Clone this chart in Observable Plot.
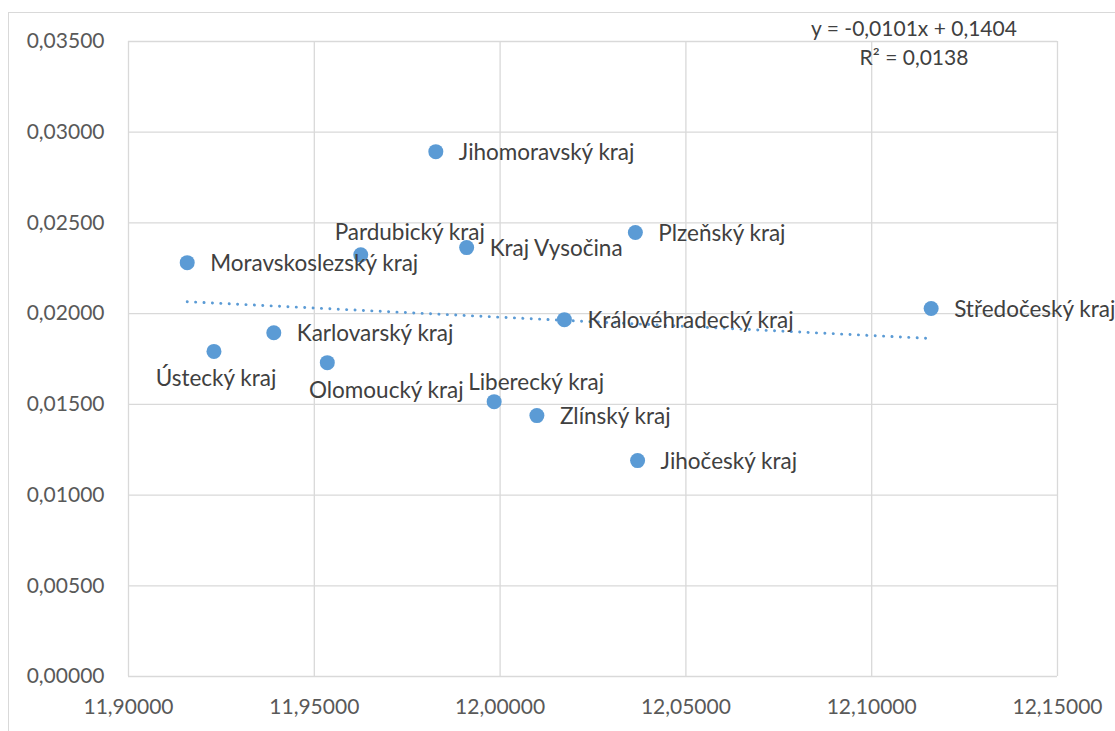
<!DOCTYPE html>
<html>
<head>
<meta charset="utf-8">
<script src="https://cdn.jsdelivr.net/npm/d3@7"></script>
<script src="https://cdn.jsdelivr.net/npm/@observablehq/plot@0.6"></script>
<style>
  html, body { margin: 0; padding: 0; background: #fff; overflow: hidden; }
  #wrap { position: relative; width: 1115px; height: 731px; }
  #frame { position: absolute; left: 8px; top: 12px; width: 1200px; height: 800px;
           border-left: 1px solid #D9D9D9; border-top: 1px solid #D9D9D9; }
  #chart { position: absolute; left: 0; top: 0; }
</style>
</head>
<body>
<div id="wrap"><div id="frame"></div><div id="chart"></div></div>
<script>
// ---- data ----
const regions = [
  "Jihomoravský kraj", "Pardubický kraj", "Kraj Vysočina", "Plzeňský kraj",
  "Moravskoslezský kraj", "Středočeský kraj", "Královéhradecký kraj",
  "Karlovarský kraj", "Ústecký kraj", "Olomoucký kraj", "Liberecký kraj",
  "Zlínský kraj", "Jihočeský kraj"
];
const xValues = [11.9827, 11.9625, 11.9910, 12.0364, 11.9158, 12.1160, 12.0173,
                 11.9391, 11.9230, 11.9535, 11.9984, 12.0099, 12.0370];
const yValues = [0.02893, 0.02324, 0.02364, 0.02447, 0.02281, 0.02028, 0.01967,
                 0.01895, 0.01792, 0.01730, 0.01515, 0.01438, 0.01190];
const xTicks = [11.90, 11.95, 12.00, 12.05, 12.10, 12.15];
const yTicks = [0, 0.005, 0.010, 0.015, 0.020, 0.025, 0.030, 0.035];
const equationLines = ["y = -0,0101x + 0,1404", "R² = 0,0138"];

// ---- build ----
const data = regions.map((name, i) => ({name, x: xValues[i], y: yValues[i]}));
const fmt = v => d3.format(".5f")(v).replace(".", ",");

// label placement (offsets in px relative to the point)
const placement = {
  "Pardubický kraj": {dx: 49, dy: -22, anchor: "middle"},
  "Ústecký kraj": {dx: 2, dy: 27, anchor: "middle"},
  "Olomoucký kraj": {dx: 59, dy: 28, anchor: "middle"},
  "Liberecký kraj": {dx: 42, dy: -19, anchor: "middle"}
};
const rightLabels = data.filter(d => !placement[d.name]);
const otherLabels = data.filter(d => placement[d.name]);

const blue = "#5B9BD5";
const font = "Lato, 'Noto Sans', sans-serif";
const labelSize = 22.5;

const labelMarks = otherLabels.map(d => Plot.text([d], {
  x: "x", y: "y", text: "name", dx: placement[d.name].dx, dy: placement[d.name].dy,
  textAnchor: placement[d.name].anchor, fontSize: labelSize, fill: "#404040"
}));

const chart = Plot.plot({
  width: 1115,
  height: 731,
  marginLeft: 128,
  marginRight: 58,
  marginTop: 41,
  marginBottom: 55,
  style: {fontFamily: font, background: "transparent", overflow: "visible"},
  x: {domain: [11.9, 12.15]},
  y: {domain: [0, 0.035]},
  marks: [
    Plot.gridX(xTicks, {stroke: "#D9D9D9", strokeOpacity: 1, strokeWidth: 1.3}),
    Plot.gridY(yTicks, {stroke: "#D9D9D9", strokeOpacity: 1, strokeWidth: 1.3}),
    Plot.axisX(xTicks, {tickSize: 0, tickPadding: 23, tickFormat: fmt, fontSize: 21, fill: "#595959", label: null}),
    Plot.axisY(yTicks, {tickSize: 0, tickPadding: 24, tickFormat: fmt, fontSize: 21, fill: "#595959", label: null}),
    Plot.linearRegressionY(data, {x: "x", y: "y", ci: 0, stroke: blue, strokeWidth: 2.9,
      strokeDasharray: "0.1 8.3", strokeLinecap: "round"}),
    Plot.dot(data, {x: "x", y: "y", r: 7.5, fill: blue, stroke: null}),
    Plot.text(rightLabels, {x: "x", y: "y", text: "name", dx: 23, dy: 1.5, textAnchor: "start",
      fontSize: labelSize, fill: "#404040"}),
    ...labelMarks,
    Plot.text([equationLines.join("\n")], {frameAnchor: "top", dx: 321, dy: -26,
      lineAnchor: "top", lineHeight: 1.37, fontSize: 21, fill: "#404040"})
  ]
});
document.getElementById("chart").appendChild(chart);
</script>
</body>
</html>
